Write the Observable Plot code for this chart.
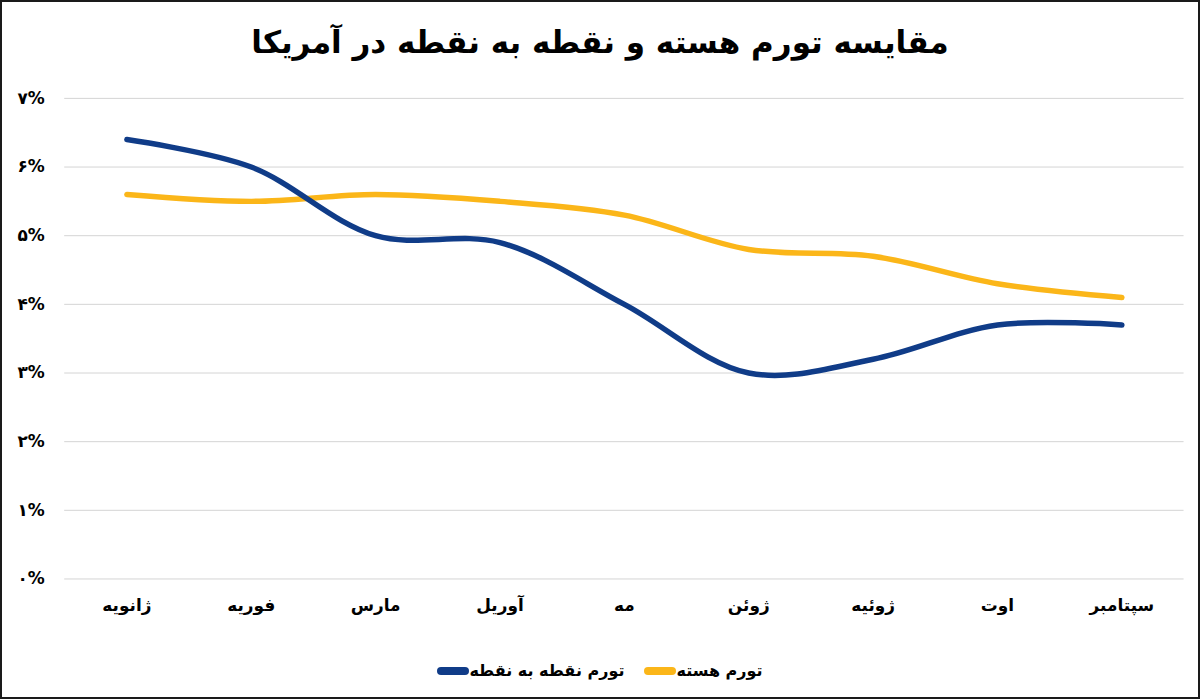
<!DOCTYPE html>
<html lang="fa">
<head>
<meta charset="utf-8">
<script src="https://cdn.jsdelivr.net/npm/d3@7"></script>
<script src="https://cdn.jsdelivr.net/npm/@observablehq/plot@0.6"></script>
<style>
  html, body { margin: 0; padding: 0; background: #fff; }
  #frame { position: relative; width: 1200px; height: 699px; box-sizing: border-box; border: 2px solid #1a1a1a; overflow: hidden; font-family: "DejaVu Sans", sans-serif; }
  #title { position: absolute; top: 18px; left: 0; width: 1196px; text-align: center; font-weight: bold; font-size: 31px; direction: rtl; color: #000; line-height: 44px; }
  #chart { position: absolute; top: 74px; left: -2px; }
  #legend { position: absolute; top: 659px; left: 0; width: 1196px; display: flex; justify-content: center; direction: rtl; gap: 20px; font-size: 16px; font-weight: bold; color: #000; }
  .item { display: flex; align-items: center; }
  .sw { width: 32px; height: 8px; border-radius: 4px; display: inline-block; }
</style>
</head>
<body>
<div id="frame">
  <div id="title"></div>
  <div id="chart"></div>
  <div id="legend"></div>
</div>
<script>
const title = "مقایسه تورم هسته و نقطه به نقطه در آمریکا";
const months = ["ژانویه", "فوریه", "مارس", "آوریل", "مه", "ژوئن", "ژوئیه", "اوت", "سپتامبر"];
const headline = [6.4, 6.0, 5.0, 4.9, 4.0, 3.0, 3.2, 3.7, 3.7];
const core = [5.6, 5.5, 5.6, 5.5, 5.3, 4.8, 4.7, 4.3, 4.1];
const seriesNames = ["تورم هسته", "تورم نقطه به نقطه"];
const seriesColors = ["#fbb619", "#103c88"];
const yTicks = [0, 1, 2, 3, 4, 5, 6, 7];
const yTickLabels = ["۰%", "۱%", "۲%", "۳%", "۴%", "۵%", "۶%", "۷%"];

document.getElementById("title").textContent = title;

const rows = [
  ...months.map((m, i) => ({month: m, value: core[i], series: seriesNames[0]})),
  ...months.map((m, i) => ({month: m, value: headline[i], series: seriesNames[1]}))
];

const chart = Plot.plot({
  width: 1204,
  height: 568,
  marginLeft: 64.5,
  marginRight: 14.5,
  marginTop: 22,
  marginBottom: 63,
  style: {fontFamily: "DejaVu Sans, sans-serif", background: "transparent"},
  x: {type: "point", domain: months, padding: 0.5, label: null},
  y: {domain: [0, 7], label: null},
  color: {domain: seriesNames, range: seriesColors},
  marks: [
    Plot.ruleY(yTicks, {stroke: "#d4d4d4", strokeWidth: 1}),
    Plot.axisY({ticks: yTicks, tickFormat: (d) => yTickLabels[yTicks.indexOf(d)], tickSize: 0, tickPadding: 20, fontSize: 17, fontWeight: "bold", fill: "#000", label: null}),
    Plot.axisX({tickSize: 0, tickPadding: 20, fontSize: 17, fontWeight: "bold", fill: "#000", label: null}),
    Plot.line(rows, {x: "month", y: "value", z: "series", stroke: "series", strokeWidth: 5.5, curve: "catmull-rom", strokeLinecap: "round"})
  ]
});
document.getElementById("chart").appendChild(chart);

const legend = document.getElementById("legend");
seriesNames.forEach((name, i) => {
  const item = document.createElement("div");
  item.className = "item";
  const t = document.createElement("span");
  t.textContent = name;
  const sw = document.createElement("span");
  sw.className = "sw";
  sw.style.background = seriesColors[i];
  item.appendChild(t);
  item.appendChild(sw);
  legend.appendChild(item);
});
</script>
</body>
</html>
